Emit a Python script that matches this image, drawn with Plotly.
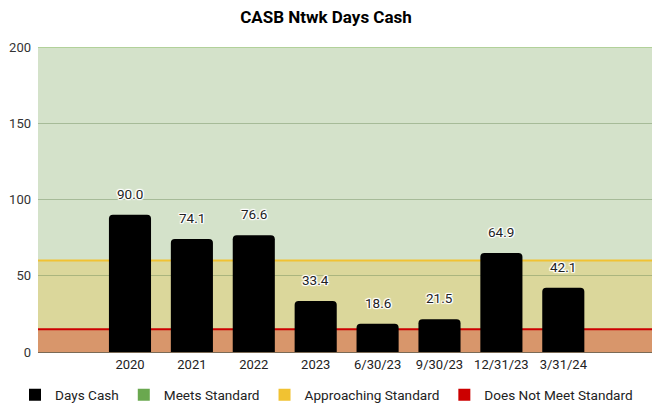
import plotly.graph_objects as go

categories = ["2020", "2021", "2022", "2023", "6/30/23", "9/30/23", "12/31/23", "3/31/24"]
days_cash = [90.0, 74.1, 76.6, 33.4, 18.6, 21.5, 64.9, 42.1]
meets_threshold = 60
not_meet_threshold = 15
y_max = 200
y_ticks = [0, 50, 100, 150, 200]
legend_names = ["Days Cash", "Meets Standard", "Approaching Standard", "Does Not Meet Standard"]
legend_colors = ["#000000", "#6aa84f", "#f1c232", "#cc0000"]

fig = go.Figure()
fig.add_trace(go.Bar(
    x=categories, y=days_cash, name=legend_names[0],
    marker=dict(color="#000000", cornerradius=4, line=dict(width=0)),
    width=0.68, showlegend=False, hoverinfo="x+y",
))
for name, color in zip(legend_names, legend_colors):
    fig.add_trace(go.Scatter(
        x=[None], y=[None], mode="markers", name=name,
        marker=dict(symbol="square", size=12, color=color),
    ))

# background bands
bands = [
    (0, not_meet_threshold, "#d8966b"),
    (not_meet_threshold, meets_threshold, "#dbd79b"),
    (meets_threshold, y_max, "#d4e2ca"),
]
for y0, y1, c in bands:
    fig.add_shape(type="rect", xref="paper", x0=0, x1=1, yref="y", y0=y0, y1=y1,
                  fillcolor=c, line=dict(width=0), layer="below")
fig.add_shape(type="line", xref="paper", x0=0, x1=1, yref="y", y0=meets_threshold, y1=meets_threshold,
              line=dict(color="#f1c232", width=2), layer="between")
fig.add_shape(type="line", xref="paper", x0=0, x1=1, yref="y", y0=not_meet_threshold, y1=not_meet_threshold,
              line=dict(color="#cc0000", width=2), layer="between")
fig.add_shape(type="line", xref="paper", x0=0, x1=1, yref="y", y0=y_max, y1=y_max,
              line=dict(color="#8fbf6a", width=1), layer="between")

halo = ("1px 1px 1px white, -1px -1px 1px white, 1px -1px 1px white, -1px 1px 1px white, "
        "0 1px 1px white, 0 -1px 1px white, 1px 0 1px white, -1px 0 1px white")
for i, v in enumerate(days_cash):
    fig.add_annotation(x=i, y=v, text=f"{v:.1f}", showarrow=False, yshift=21,
                       font=dict(family="Roboto", size=13.5, color="#222222", shadow=halo))

fig.update_layout(
    width=652, height=406,
    margin=dict(l=38, r=0, t=47, b=54, autoexpand=False),
    paper_bgcolor="white", plot_bgcolor="white",
    font=dict(family="Roboto", size=13, color="#222222"),
    title=dict(text="<b>CASB Ntwk Days Cash</b>", x=0.5, xanchor="center", xref="container",
               y=1 - 17 / 406, yanchor="middle",
               font=dict(family="Roboto", size=17, color="#000000")),
    xaxis=dict(type="category", range=[-1.486, 8.433], showgrid=False, ticks="",
               tickfont=dict(size=13, color="#222222"), showline=True, linecolor="#7a6a55", linewidth=1),
    yaxis=dict(range=[0, y_max], tickvals=y_ticks, showgrid=True, gridcolor="rgba(110,140,90,0.45)",
               gridwidth=1, zeroline=False, ticks="", tickfont=dict(size=13, color="#333333"),
               ticklabelstandoff=6),
    legend=dict(orientation="h", x=(15 - 38) / 614, xanchor="left",
                y=-(395 - 352) / 305, yanchor="middle", bgcolor="rgba(0,0,0,0)",
                font=dict(size=13.6, color="#222222"), itemwidth=30, tracegroupgap=0),
)

fig.write_html("out.html", post_script="document.body.style.margin='0';",
               config={"displayModeBar": False})
